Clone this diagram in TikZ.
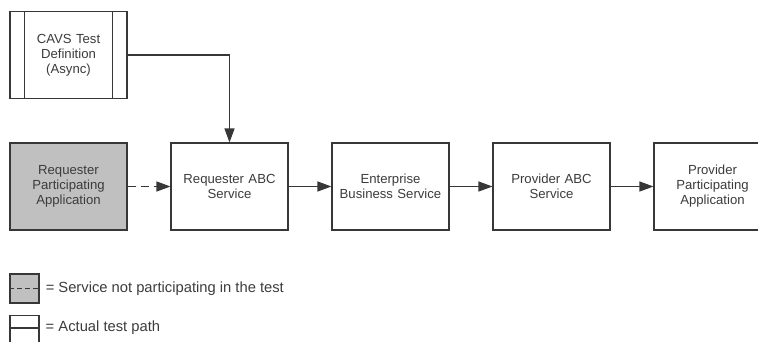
\documentclass[tikz,border=0pt]{standalone}
\usepackage{fontspec}
\setmainfont{Liberation Sans}
\usetikzlibrary{calc,arrows.meta,positioning}
\definecolor{linegray}{RGB}{55,55,55}
\definecolor{textgray}{RGB}{60,60,60}
\definecolor{offgray}{RGB}{192,192,192}
\tikzset{
  svcbox/.style={draw=linegray, line width=1.1bp, fill=white, minimum width=117bp, minimum height=87bp,
    align=center, text width=104bp, text=textgray, font=\fontsize{13.2}{15}\selectfont},
  offbox/.style={svcbox, fill=offgray},
  keybox/.style={draw=linegray, line width=1.1bp, minimum width=29bp, minimum height=29bp},
  keytext/.style={anchor=west, text=textgray, inner sep=0pt, font=\fontsize{14.8}{16}\selectfont},
  flow/.style={draw=linegray, line width=1.1bp, -{Triangle[length=14bp,width=10bp]}},
  offflow/.style={flow, dash pattern=on 8bp off 5bp}
}
\begin{document}
\begin{tikzpicture}[x=1bp,y=-1bp]
			%%%%% START %%%%%
			\useasboundingbox (0,0) rectangle (758,341);
			\clip (0,0) rectangle (758,341);
			
			% test definition
			\node[svcbox] (cavs) at (68.5,55) {CAVS Test\\Definition\\(Async)};
			\draw[linegray, line width=1.1bp] ($(cavs.north west)+(15,0)$) -- ($(cavs.south west)+(15,0)$);
			\draw[linegray, line width=1.1bp] ($(cavs.north east)+(-15,0)$) -- ($(cavs.south east)+(-15,0)$);
			
			% main row
			\node[offbox] (rpa) at (68.5,186.5) {Requester\\Participating\\Application};
			\node[svcbox] (rabc) at (229.5,186.5) {Requester ABC\\Service};
			\node[svcbox] (ebs) at (390.5,186.5) {Enterprise\\Business Service};
			\node[svcbox] (pabc) at (551.5,186.5) {Provider ABC\\Service};
			\node[svcbox] (ppa) at (712.5,186.5) {Provider\\Participating\\Application};
			
			\draw[flow] (cavs.east) -| (rabc.north);
			\draw[offflow] (rpa) -- (rabc);
			\draw[flow] (rabc) -- (ebs);
			\draw[flow] (ebs) -- (pabc);
			\draw[flow] (pabc) -- (ppa);
			
			% legend
			\node[keybox, fill=offgray] (keyoff) at (24.5,288.5) {};
			\draw[linegray, line width=1.1bp, dash pattern=on 5bp off 3bp] (keyoff.west) -- (keyoff.east);
			\node[keytext, right=6bp of keyoff] (keyofftext) {= Service not participating in the test};
			
			\node[keybox] (keyon) at (24.5,330) {};
			\draw[linegray, line width=1.1bp] ($(keyon.west)+(0,-2)$) -- ($(keyon.east)+(0,-2)$);
			\node[keytext, anchor=west] (keyontext) at ($(keyon.east)+(6,-2)$) {= Actual test path};
			%%%%% END %%%%%
\end{tikzpicture}
\end{document}
